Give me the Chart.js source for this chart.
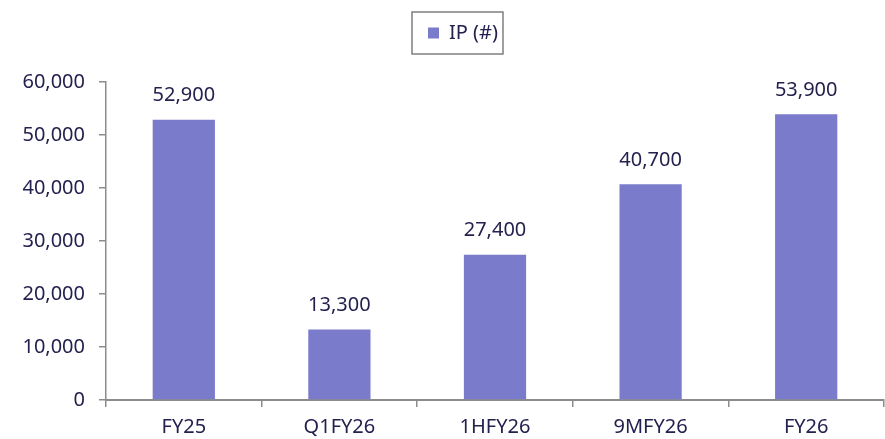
<!DOCTYPE html>
<html>
<head>
<meta charset="utf-8">
<script src="https://cdn.jsdelivr.net/npm/chart.js@4/dist/chart.umd.min.js"></script>
<style>
  html, body { margin: 0; padding: 0; background: #fff; }
  #wrap { width: 885px; height: 439px; }
</style>
</head>
<body>
<div id="wrap"><canvas id="chart" width="885" height="439"></canvas></div>
<script>
const categories = ['FY25', 'Q1FY26', '1HFY26', '9MFY26', 'FY26'];
const ipValues = [52900, 13300, 27400, 40700, 53900];
const seriesName = 'IP (#)';
const yTicks = [0, 10000, 20000, 30000, 40000, 50000, 60000];

const textColor = '#24214f';
const axisColor = '#8c8c8c';
const barColor = '#7b7bcb';
const fontFamily = '"Noto Sans", "Open Sans", sans-serif';

const fmt = v => v.toLocaleString('en-US');

// value labels over each bar
const barLabels = {
  id: 'barLabels',
  afterDatasetsDraw(chart) {
    const ctx = chart.ctx;
    const meta = chart.getDatasetMeta(0);
    ctx.save();
    ctx.font = '20px ' + fontFamily;
    ctx.fillStyle = textColor;
    ctx.textAlign = 'center';
    ctx.textBaseline = 'middle';
    meta.data.forEach((bar, i) => {
      ctx.fillText(fmt(ipValues[i]), bar.x, bar.y - 24);
    });
    ctx.restore();
  }
};

// legend sits near the top, a little right of centre, in a grey frame
const legendFrame = {
  id: 'legendFrame',
  afterLayout(chart) {
    const lg = chart.legend;
    const dy = -29;
    lg.left += 42;
    lg.top += dy;
    lg.bottom += dy;
    lg.legendHitBoxes.forEach(b => { b.left += 21; });
  },
  afterDraw(chart) {
    const box = chart.legend.legendHitBoxes[0];
    if (!box) return;
    const ctx = chart.ctx;
    ctx.save();
    ctx.strokeStyle = '#7f7f7f';
    ctx.lineWidth = 1.5;
    ctx.strokeRect(box.left - 16, box.top - 11, box.width + 21, 42);
    ctx.restore();
  }
};

new Chart(document.getElementById('chart'), {
  type: 'bar',
  data: {
    labels: categories,
    datasets: [{
      label: seriesName,
      data: ipValues,
      backgroundColor: barColor,
      categoryPercentage: 0.8,
      barPercentage: 0.5
    }]
  },
  options: {
    responsive: false,
    animation: false,
    layout: { padding: { top: 36, right: 1, left: 0, bottom: 0 } },
    plugins: {
      legend: {
        position: 'top',
        labels: {
          color: textColor,
          font: { family: fontFamily, size: 20 },
          boxWidth: 11,
          boxHeight: 11,
          padding: 16
        }
      },
      tooltip: { enabled: false }
    },
    scales: {
      x: {
        afterFit(scale) { scale.height = 39; },
        grid: { offset: true, drawOnChartArea: false, drawTicks: true, tickLength: 7, color: axisColor, lineWidth: 1.5 },
        border: { color: axisColor, width: 2 },
        ticks: { color: textColor, font: { family: fontFamily, size: 20 }, padding: 8 }
      },
      y: {
        min: 0,
        max: 60000,
        afterFit(scale) { scale.width = 106; },
        afterBuildTicks(scale) { scale.ticks = yTicks.map(v => ({ value: v })); },
        grid: { drawOnChartArea: false, drawTicks: true, tickLength: 7, color: axisColor, lineWidth: 1.5 },
        border: { color: axisColor, width: 1.5 },
        ticks: { color: textColor, font: { family: fontFamily, size: 20 }, padding: 14, callback: v => fmt(v) }
      }
    }
  },
  plugins: [barLabels, legendFrame]
});
</script>
</body>
</html>
